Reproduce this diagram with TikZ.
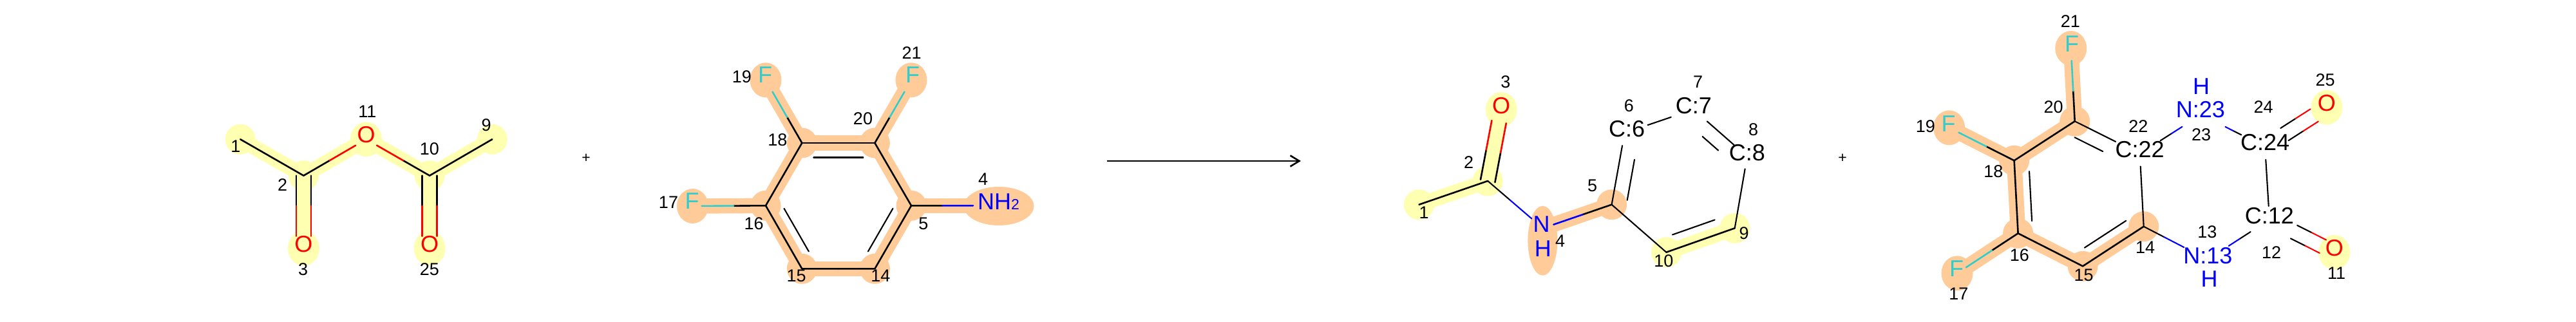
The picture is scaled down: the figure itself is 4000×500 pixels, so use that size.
\documentclass[tikz,border=0pt]{standalone}
\usepackage{fontspec}
\setmainfont{Liberation Sans}
\usetikzlibrary{calc,arrows.meta}
\definecolor{hly}{RGB}{255,255,178}
\definecolor{hlo}{RGB}{255,204,153}
\definecolor{ff}{RGB}{51,204,204}
\definecolor{nn}{RGB}{0,0,255}
\definecolor{oo}{RGB}{255,0,0}
\tikzset{
  hk/.style={line width=2.6pt,line cap=round},
  tn/.style={line width=2.1pt,line cap=round},
  numlab/.style={inner sep=0pt,anchor=center,text height=19.3pt,text depth=0pt,font=\fontsize{27}{27}\selectfont,black},
  atomlab/.style={inner sep=0pt,anchor=center,text height=25.8pt,text depth=0pt,font=\fontsize{36}{36}\selectfont},
  plussign/.style={inner sep=0pt,anchor=center,font=\fontsize{23}{23}\selectfont,black},
  rxnarrow/.style={line width=2.6pt,-{Straight Barb[length=14pt,width=17pt,line width=2.6pt]}}
}
% optional offset; a, b, style, colour a, colour b, trim a, trim b
\newcommand\bd[8][0pt]{%
  \coordinate (p) at ($(#2)!#7!(#3)!#1!90:(#3)$);
  \coordinate (q) at ($(#3)!#8!(#2)!#1!-90:(#2)$);
  \coordinate (m) at ($(p)!.5!(q)$);
  \draw[#4,#5] (p) -- (m);
  \draw[#4,#6] (m) -- (q);
}
\newcommand\hb[3]{\draw[#1,line width=23.5pt] (#2) -- (#3);}
\newcommand\hc[2]{\fill[#1] (#2) ellipse [x radius=23.5,y radius=23.5];}
\newcommand\hx[2]{\fill[#1] (#2) ellipse [x radius=24.5,y radius=27];}
\newcommand\num[3]{\node[numlab] (#1) at (#2) {#3};}
\newcommand\atm[4]{\node[atomlab,text=#4] (#1) at (#2) {#3};}
\begin{document}
\begin{tikzpicture}[x=1pt,y=-1pt]
\useasboundingbox (0,0) rectangle (4000,500);
% ---- molecule A
\coordinate (a1) at (373.2,216.3);
\coordinate (a2) at (471.4,272.7);
\coordinate (a3) at (471.4,385.7);
\coordinate (a11) at (568.6,216.3);
\coordinate (a10) at (667.1,272.7);
\coordinate (a9) at (764.3,216.3);
\coordinate (a25) at (667.1,385.7);
\hb{hly}{a1}{a2}\hb{hly}{a2}{a3}\hb{hly}{a2}{a11}\hb{hly}{a11}{a10}\hb{hly}{a10}{a9}\hb{hly}{a10}{a25}
\hc{hly}{a1}\hc{hly}{a2}\hc{hly}{a10}\hc{hly}{a9}
\hx{hly}{a3}\hx{hly}{a11}\hx{hly}{a25}
\bd{a1}{a2}{hk}{black}{black}{0pt}{0pt}
\bd{a2}{a11}{hk}{black}{oo}{0pt}{19pt}
\bd{a10}{a11}{hk}{black}{oo}{0pt}{19pt}
\bd{a10}{a9}{hk}{black}{black}{0pt}{0pt}
\bd[11.4pt]{a2}{a3}{hk}{black}{oo}{0pt}{19pt}
\bd[-11.4pt]{a2}{a3}{hk}{black}{oo}{0pt}{19pt}
\bd[11.4pt]{a10}{a25}{hk}{black}{oo}{0pt}{19pt}
\bd[-11.4pt]{a10}{a25}{hk}{black}{oo}{0pt}{19pt}
\atm{aO3}{471.4,378.3}{O}{oo}
\atm{aO11}{568.6,209}{O}{oo}
\atm{aO25}{667.1,378.3}{O}{oo}
\num{an1}{366,227.3}{1}\num{an2}{438.6,286.7}{2}\num{an3}{470.7,418.3}{3}
\num{an11}{570.4,173.3}{11}\num{an10}{666.8,230.7}{10}\num{an9}{755,194.3}{9}
\num{an25}{666.8,418.3}{25}
\node[plussign] (plus1) at (910,246) {+};
% ---- molecule B
\coordinate (b18) at (1245.3,222);
\coordinate (b20) at (1358.4,222);
\coordinate (b5) at (1415,319.3);
\coordinate (b14) at (1358.4,417.3);
\coordinate (b15) at (1245.3,417.3);
\coordinate (b16) at (1189,319.3);
\coordinate (b19) at (1189,124.3);
\coordinate (b21) at (1415,124.3);
\coordinate (b17) at (1075.5,320);
\coordinate (b4) at (1528,319.3);
\coordinate (b4h) at (1551,320);
\hb{hlo}{b18}{b20}\hb{hlo}{b20}{b5}\hb{hlo}{b5}{b14}\hb{hlo}{b14}{b15}\hb{hlo}{b15}{b16}\hb{hlo}{b16}{b18}
\hb{hlo}{b18}{b19}\hb{hlo}{b20}{b21}\hb{hlo}{b16}{b17}\hb{hlo}{b5}{b4}
\hc{hlo}{b18}\hc{hlo}{b20}\hc{hlo}{b5}\hc{hlo}{b14}\hc{hlo}{b15}\hc{hlo}{b16}
\hx{hlo}{b19}\hx{hlo}{b21}\hx{hlo}{b17}
\fill[hlo] (b4h) ellipse [x radius=54.5,y radius=30];
\bd{b18}{b20}{hk}{black}{black}{0pt}{0pt}
\bd{b20}{b5}{hk}{black}{black}{0pt}{0pt}
\bd{b5}{b14}{hk}{black}{black}{0pt}{0pt}
\bd{b14}{b15}{hk}{black}{black}{0pt}{0pt}
\bd{b15}{b16}{hk}{black}{black}{0pt}{0pt}
\bd{b16}{b18}{hk}{black}{black}{0pt}{0pt}
\bd[-22.5pt]{b18}{b20}{tn}{black}{black}{18pt}{18pt}
\bd[22.5pt]{b16}{b15}{tn}{black}{black}{18pt}{18pt}
\bd[-22.5pt]{b5}{b14}{tn}{black}{black}{18pt}{18pt}
\bd{b18}{b19}{hk}{black}{ff}{0pt}{21pt}
\bd{b20}{b21}{hk}{black}{ff}{0pt}{21pt}
\bd{b16}{b17}{hk}{black}{ff}{0pt}{14pt}
\bd{b5}{b4}{hk}{black}{nn}{0pt}{17pt}
\atm{bF19}{1188,116}{F}{ff}
\atm{bF21}{1417,116}{F}{ff}
\atm{bF17}{1074.5,312}{F}{ff}
\node[atomlab,text=nn,anchor=west] (bN4) at (1518,312.8) {NH{\fontsize{23}{23}\selectfont 2}};
\num{bn19}{1151.8,119.3}{19}\num{bn21}{1415.5,81.7}{21}\num{bn20}{1340,184.3}{20}
\num{bn18}{1207.3,217.3}{18}\num{bn17}{1038,314.3}{17}\num{bn16}{1170.6,347.3}{16}
\num{bn15}{1236.7,428.3}{15}\num{bn14}{1367.3,428.3}{14}\num{bn5}{1433.9,347.3}{5}
\num{bn4}{1526.5,278.3}{4}
% ---- arrow
\coordinate (arrS) at (1719,250);
\coordinate (arrE) at (2020,250);
\draw[rxnarrow] (arrS) -- (arrE);
% ---- molecule C
\coordinate (c1) at (2203.5,317.7);
\coordinate (c2) at (2310.2,281);
\coordinate (c3) at (2331.2,170);
\coordinate (c4) at (2395.7,354.4);
\coordinate (c4h) at (2395.4,373.7);
\coordinate (c5) at (2502.6,317.7);
\coordinate (c6) at (2522.6,206.4);
\coordinate (c7) at (2629.8,170);
\coordinate (c8) at (2713,243);
\coordinate (c9) at (2693.7,354.3);
\coordinate (c10) at (2587.4,391.7);
\hb{hly}{c1}{c2}\hb{hly}{c2}{c3}\hb{hly}{c10}{c9}\hb{hlo}{c4}{c5}
\hc{hly}{c1}\hc{hly}{c2}\hc{hly}{c9}\hc{hly}{c10}\hc{hlo}{c5}
\hx{hly}{c3}
\fill[hlo] (c4h) ellipse [x radius=23,y radius=54];
\bd{c1}{c2}{hk}{black}{black}{0pt}{0pt}
\bd[11.4pt]{c2}{c3}{hk}{black}{oo}{0pt}{19.5pt}
\bd[-11.4pt]{c2}{c3}{hk}{black}{oo}{0pt}{19.5pt}
\bd{c2}{c4}{tn}{black}{nn}{0pt}{22.8pt}
\bd{c5}{c4}{hk}{black}{nn}{0pt}{17.6pt}
\bd{c5}{c6}{tn}{black}{black}{0pt}{20pt}
\bd{c5}{c10}{tn}{black}{black}{0pt}{0pt}
\bd{c10}{c9}{hk}{black}{black}{0pt}{0pt}
\bd{c9}{c8}{tn}{black}{black}{0pt}{19.5pt}
\bd{c6}{c7}{tn}{black}{black}{38pt}{37pt}
\bd{c7}{c8}{tn}{black}{black}{28pt}{27pt}
\bd[-22.5pt]{c5}{c6}{tn}{black}{black}{11pt}{38pt}
\bd[22.5pt]{c10}{c9}{tn}{black}{black}{18pt}{25pt}
\bd[-22.5pt]{c7}{c8}{tn}{black}{black}{38pt}{40pt}
\atm{cO3}{2331.2,163.3}{O}{oo}
\atm{cN4}{2393.7,347.7}{N}{nn}
\atm{cH4}{2395.9,385.7}{H}{nn}
\atm{cC6}{2526.2,200}{C:6}{black}
\atm{cC7}{2629.8,163.3}{C:7}{black}
\atm{cC8}{2712.9,236.7}{C:8}{black}
\num{cn1}{2211,330}{1}\num{cn2}{2280.7,251.7}{2}\num{cn3}{2337.9,127.3}{3}
\num{cn4}{2422.7,374.3}{4}\num{cn5}{2472.7,287.7}{5}\num{cn6}{2529.4,164}{6}
\num{cn7}{2636.5,127.3}{7}\num{cn8}{2722.7,200.7}{8}\num{cn9}{2708,361.7}{9}
\num{cn10}{2583.4,405}{10}
\node[plussign] (plus2) at (2861,246) {+};
% ---- molecule D
\coordinate (d21) at (3215.7,75);
\coordinate (d20) at (3221.7,188.3);
\coordinate (d18) at (3127.6,249.3);
\coordinate (d16) at (3133.6,362.3);
\coordinate (d15) at (3234.1,413.3);
\coordinate (d14) at (3328.7,351.7);
\coordinate (d22) at (3322.7,238.7);
\coordinate (d19) at (3026.6,198.3);
\coordinate (d17) at (3039,424.3);
\coordinate (d23) at (3418,178);
\coordinate (d24) at (3517,228);
\coordinate (d25) at (3612.9,166.7);
\coordinate (d12) at (3524,341);
\coordinate (d11) at (3624.8,391.7);
\coordinate (d13) at (3428,403);
\hb{hlo}{d21}{d20}\hb{hlo}{d20}{d18}\hb{hlo}{d18}{d19}\hb{hlo}{d18}{d16}\hb{hlo}{d16}{d17}\hb{hlo}{d16}{d15}\hb{hlo}{d15}{d14}
\hc{hlo}{d20}\hc{hlo}{d18}\hc{hlo}{d16}\hc{hlo}{d15}\hc{hlo}{d14}
\hx{hlo}{d21}\hx{hlo}{d19}\hx{hlo}{d17}
\hx{hly}{d25}\hx{hly}{d11}
\bd{d20}{d21}{hk}{black}{ff}{0pt}{19.3pt}
\bd{d18}{d19}{hk}{black}{ff}{0pt}{16.6pt}
\bd{d16}{d17}{hk}{black}{ff}{0pt}{16.6pt}
\bd{d20}{d18}{hk}{black}{black}{0pt}{0pt}
\bd{d18}{d16}{hk}{black}{black}{0pt}{0pt}
\bd{d16}{d15}{hk}{black}{black}{0pt}{0pt}
\bd{d15}{d14}{hk}{black}{black}{0pt}{0pt}
\bd[22.5pt]{d18}{d16}{tn}{black}{black}{18pt}{18pt}
\bd[22.5pt]{d15}{d14}{tn}{black}{black}{18pt}{18pt}
\bd{d20}{d22}{tn}{black}{black}{0pt}{42pt}
\bd[-22.5pt]{d20}{d22}{tn}{black}{black}{11pt}{53pt}
\bd{d22}{d14}{tn}{black}{black}{19.7pt}{0pt}
\bd{d22}{d23}{tn}{black}{nn}{37.7pt}{35pt}
\bd{d24}{d23}{tn}{black}{nn}{41pt}{42pt}
\bd{d24}{d12}{tn}{black}{black}{20pt}{21pt}
\bd{d14}{d13}{tn}{black}{nn}{0pt}{41.4pt}
\bd{d12}{d13}{tn}{black}{nn}{35pt}{38.9pt}
\bd[11.4pt]{d24}{d25}{tn}{black}{oo}{36pt}{22.8pt}
\bd[-11.4pt]{d24}{d25}{tn}{black}{oo}{36pt}{22.8pt}
\bd[11.4pt]{d12}{d11}{tn}{black}{oo}{42.5pt}{20pt}
\bd[-11.4pt]{d12}{d11}{tn}{black}{oo}{42.5pt}{20pt}
\atm{dF21}{3217,67.7}{F}{ff}
\atm{dF19}{3025.7,191.7}{F}{ff}
\atm{dF17}{3038,416.7}{F}{ff}
\atm{dC22}{3322.7,231.7}{C:22}{black}
\atm{dN23}{3416.8,170}{N:23}{nn}
\atm{dH23}{3418.2,133.3}{H}{nn}
\atm{dC24}{3517,221}{C:24}{black}
\atm{dO25}{3612.9,160}{O}{oo}
\atm{dC12}{3523.8,334.3}{C:12}{black}
\atm{dO11}{3624.8,385}{O}{oo}
\atm{dN13}{3428.3,396.7}{N:13}{nn}
\atm{dH13}{3430.6,432.3}{H}{nn}
\num{dn21}{3214.8,32.7}{21}\num{dn19}{2989.8,195.7}{19}\num{dn20}{3188.7,165.7}{20}
\num{dn22}{3320.4,196}{22}\num{dn23}{3418.2,209.3}{23}\num{dn24}{3514.6,166}{24}
\num{dn25}{3610.6,124.3}{25}\num{dn18}{3095.4,265.7}{18}\num{dn16}{3135.8,395.7}{16}
\num{dn14}{3331,384.3}{14}\num{dn15}{3235.5,426.7}{15}\num{dn17}{3041.3,456}{17}
\num{dn13}{3427.4,360}{13}\num{dn12}{3527,392.3}{12}\num{dn11}{3628,424.3}{11}
\end{tikzpicture}
\end{document}
